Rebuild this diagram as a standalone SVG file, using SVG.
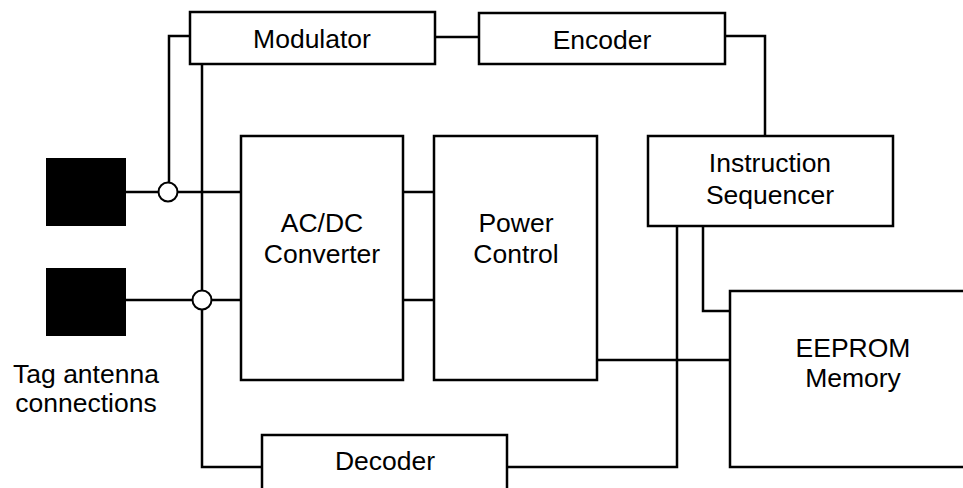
<svg xmlns="http://www.w3.org/2000/svg" width="963" height="488" viewBox="0 0 963 488">
<style>
.box{fill:#fff;stroke:#000;stroke-width:2.5}
.ant{fill:#000}
.w{fill:none;stroke:#000;stroke-width:2.5}
.j{fill:#fff;stroke:#000;stroke-width:2}
text{font-family:"Liberation Sans",Arial,sans-serif;font-size:26.5px;fill:#000;text-anchor:middle}
</style>
<rect width="963" height="488" fill="#fff"/>
<g id="connectors">
<path class="w" d="M126 192H159M177 192H241"/>
<path class="w" d="M169 183V36H190"/>
<path class="w" d="M202 64V291M202 309V467H262"/>
<path class="w" d="M126 300H193M211 300H241"/>
<path class="w" d="M403 192H434M403 300H434"/>
<path class="w" d="M435 37H479"/>
<path class="w" d="M725 36H765V136"/>
<path class="w" d="M703 226V311H730"/>
<path class="w" d="M677 226V467H507"/>
<path class="w" d="M597 360H730"/>
<circle class="j" cx="168" cy="192" r="9.5"/>
<circle class="j" cx="202" cy="300" r="9.5"/>
</g>
<g id="antenna1"><rect class="ant" x="46" y="158" width="80" height="68"/></g>
<g id="antenna2"><rect class="ant" x="46" y="268" width="80" height="68"/></g>
<g id="antenna-label"><text x="86" y="383">Tag antenna</text><text x="86" y="412">connections</text></g>
<g id="modulator"><rect class="box" x="190" y="12" width="245" height="52"/><text x="312" y="48">Modulator</text></g>
<g id="encoder"><rect class="box" x="479" y="13" width="246" height="51"/><text x="602" y="49">Encoder</text></g>
<g id="acdc"><rect class="box" x="241" y="136" width="162" height="244"/><text x="322" y="232">AC/DC</text><text x="322" y="263">Converter</text></g>
<g id="power"><rect class="box" x="434" y="136" width="163" height="244"/><text x="516" y="232">Power</text><text x="516" y="263">Control</text></g>
<g id="sequencer"><rect class="box" x="648" y="136" width="245" height="90"/><text x="770" y="172">Instruction</text><text x="770" y="204">Sequencer</text></g>
<g id="eeprom"><rect class="box" x="730" y="291" width="250" height="176"/><text x="853" y="357">EEPROM</text><text x="853" y="387">Memory</text></g>
<g id="decoder"><rect class="box" x="262" y="435" width="245" height="70"/><text x="385" y="470">Decoder</text></g>
</svg>
